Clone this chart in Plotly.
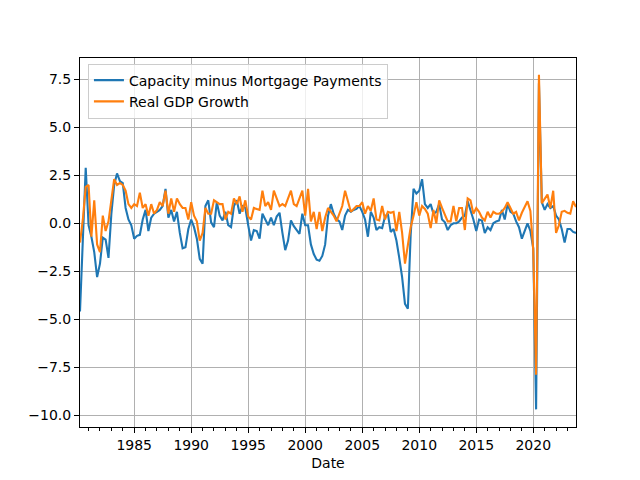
import pandas as pd
import plotly.graph_objects as go

# ============================================================
# Data (quarterly, 1980Q2 .. 2023Q4)
# ============================================================
dates = pd.date_range("1980-04-01", periods=175, freq="QS")

capacity_minus_mortgage = [
    -4.6, -1.0, 2.9,                      # 1980
    -0.1, -0.7, -1.5, -2.8,               # 1981
    -2.1, -0.75, -0.85, -1.8,             # 1982
    0.5, 2.0, 2.6, 2.2,                   # 1983
    2.1, 0.8, 0.2, -0.1,                  # 1984
    -0.8, -0.65, -0.6, 0.2,               # 1985
    0.7, -0.4, 0.3, 0.5,                  # 1986
    0.6, 0.7, 0.9, 1.8,                   # 1987
    0.3, 0.7, 0.1, 0.6,                   # 1988
    -0.5, -1.3, -1.25, -0.3,              # 1989
    0.2, -0.2, -0.8, -1.85,               # 1990
    -2.1, 0.9, 1.2, 0.05,                 # 1991
    -0.2, 1.1, 0.4, 0.15,                 # 1992
    0.6, -0.1, -0.2, 0.9,                 # 1993
    1.2, 0.5, 0.9, 0.8,                   # 1994
    -0.1, -0.9, -0.35, -0.4,              # 1995
    -0.8, 0.5, 0.2, -0.1,                 # 1996
    0.3, -0.1, 0.35, 0.55,                # 1997
    -0.5, -1.4, -0.9, 0.15,               # 1998
    -0.15, -0.35, -0.55, 0.5,             # 1999
    -0.1, -0.1, -1.1, -1.6,               # 2000
    -1.9, -1.95, -1.7, -1.1,              # 2001
    0.4, 1.0, 0.5, 0.2,                   # 2002
    0.1, -0.35, 0.4, 0.7,                 # 2003
    0.6, 0.7, 0.75, 0.9,                  # 2004
    0.6, 0.2, -0.7, 0.6,                  # 2005
    0.3, -0.35, -0.2, -0.25,              # 2006
    0.35, 0.5, -0.45, -0.3,               # 2007
    -0.9, -1.8, -2.8, -4.2,               # 2008
    -4.45, -0.6, 1.8, 1.55,               # 2009
    1.7, 2.3, 1.0, 0.8,                   # 2010
    1.0, 0.5, 0.6, 1.0,                   # 2011
    0.2, 0.05, -0.35, -0.1,               # 2012
    0.0, 0.0, 0.1, 0.3,                   # 2013
    0.4, 1.15, 0.7, 0.2,                  # 2014
    -0.4, 0.2, 0.15, -0.5,                # 2015
    -0.2, -0.35, 0.0, 0.1,                # 2016
    0.15, 0.7, 0.2, 1.0,                  # 2017
    0.6, 0.5, 0.1, -0.2,                  # 2018
    -0.8, -0.4, 0.0, -0.4,                # 2019
    -1.3, -9.7, 7.3, 1.1,                 # 2020
    0.7, 1.0, 0.8, 0.9,                   # 2021
    0.4, 0.2, -0.3, -1.0,                 # 2022
    -0.3, -0.3, -0.45, -0.5,              # 2023
]

real_gdp_growth = [
    -1.0, 0.2, 1.9,                       # 1980
    2.0, -0.7, 1.2, -1.1,                 # 1981
    -1.5, 0.4, -0.4, 0.1,                 # 1982
    1.3, 2.3, 2.0, 2.1,                   # 1983
    2.0, 1.7, 1.0, 0.8,                   # 1984
    1.0, 0.9, 1.6, 0.8,                   # 1985
    1.0, 0.4, 1.0, 0.5,                   # 1986
    0.7, 1.1, 0.9, 1.7,                   # 1987
    0.5, 1.3, 0.6, 1.3,                   # 1988
    1.0, 0.8, 0.8, 0.2,                   # 1989
    1.1, 0.4, 0.1, -0.9,                  # 1990
    -0.5, 0.8, 0.5, 0.5,                  # 1991
    1.2, 1.1, 1.0, 1.0,                   # 1992
    0.2, 0.6, 0.5, 1.3,                   # 1993
    1.0, 1.4, 0.6, 1.2,                   # 1994
    0.35, 0.2, 0.8, 0.75,                 # 1995
    0.7, 1.7, 0.9, 1.1,                   # 1996
    0.7, 1.7, 1.3, 0.9,                   # 1997
    1.0, 0.9, 1.3, 1.7,                   # 1998
    1.0, 0.9, 1.3, 1.7,                   # 1999
    0.4, 1.8, 0.1, 0.6,                   # 2000
    -0.3, 0.6, -0.4, 0.3,                 # 2001
    0.8, 0.6, 0.4, 0.1,                   # 2002
    0.5, 0.9, 1.7, 1.2,                   # 2003
    0.6, 0.75, 0.9, 0.9,                  # 2004
    1.1, 0.5, 0.9, 0.65,                  # 2005
    1.3, 0.2, 0.15, 0.9,                  # 2006
    0.2, 0.6, 0.55, 0.6,                  # 2007
    -0.4, 0.6, -0.5, -2.1,                # 2008
    -1.1, -0.2, 0.4, 1.1,                 # 2009
    0.4, 0.9, 0.75, 0.5,                  # 2010
    -0.25, 0.7, 0.0, 1.2,                 # 2011
    0.8, 0.4, 0.1, 0.1,                   # 2012
    0.9, 0.1, 0.8, 0.8,                   # 2013
    -0.35, 1.3, 1.2, 0.5,                 # 2014
    0.8, 0.6, 0.3, 0.15,                  # 2015
    0.6, 0.3, 0.6, 0.5,                   # 2016
    0.5, 0.6, 0.8, 1.1,                   # 2017
    0.8, 0.5, 0.6, 0.15,                  # 2018
    0.55, 0.85, 1.15, 0.65,               # 2019
    -1.4, -7.9, 7.75, 1.05,               # 2020
    1.3, 1.5, 0.8, 1.7,                   # 2021
    -0.5, -0.1, 0.6, 0.65,                # 2022
    0.55, 0.5, 1.15, 0.85,                # 2023
]

x_tick_years = [1985, 1990, 1995, 2000, 2005, 2010, 2015, 2020]
y_tick_vals = [-10.0, -7.5, -5.0, -2.5, 0.0, 2.5, 5.0, 7.5]

# ============================================================
# Figure
# ============================================================
FONT = "DejaVu Sans"

fig = go.Figure()

fig.add_trace(go.Scatter(
    x=dates, y=capacity_minus_mortgage, mode="lines",
    name="Capacity minus Mortgage Payments",
    line=dict(color="#1f77b4", width=2.1)
))

fig.add_trace(go.Scatter(
    x=dates, y=real_gdp_growth, mode="lines",
    name="Real GDP Growth",
    line=dict(color="#ff7f0e", width=2.1)
))

# the page body has an 8px margin, so the figure is drawn a bit smaller
fig.update_layout(
    width=632, height=472,
    margin=dict(l=72, r=64, t=50, b=53),
    paper_bgcolor="white", plot_bgcolor="white",
    font=dict(family=FONT, size=14, color="black"),
    showlegend=True,
    legend=dict(
        x=0.016, y=0.985, xanchor="left", yanchor="top",
        bgcolor="rgba(255,255,255,0.8)", bordercolor="#cccccc", borderwidth=1,
        font=dict(family=FONT, size=14), tracegroupgap=0,
    ),
)

fig.update_xaxes(
    range=[dates[0], dates[-1]],
    tickvals=[f"{y}-01-01" for y in x_tick_years],
    ticktext=[str(y) for y in x_tick_years],
    ticks="outside", ticklen=5, tickcolor="black", tickwidth=1,
    minor=dict(ticks="outside", ticklen=3, tickcolor="black",
               dtick="M12", tick0="1981-01-01", showgrid=False),
    showgrid=True, gridcolor="#b0b0b0", gridwidth=1,
    showline=True, linecolor="black", linewidth=1, mirror=True,
    zeroline=False,
    title=dict(text="Date", font=dict(family=FONT, size=14), standoff=6),
    tickfont=dict(family=FONT, size=14),
)

fig.update_yaxes(
    range=[-10.62, 8.62],
    tickvals=y_tick_vals,
    ticktext=[f"{v:.1f}".replace("-", "\u2212") for v in y_tick_vals],
    ticks="outside", ticklen=5, tickcolor="black", tickwidth=1,
    showgrid=True, gridcolor="#b0b0b0", gridwidth=1,
    showline=True, linecolor="black", linewidth=1, mirror=True,
    zeroline=False,
    tickfont=dict(family=FONT, size=14),
)

fig.write_html("out.html")
